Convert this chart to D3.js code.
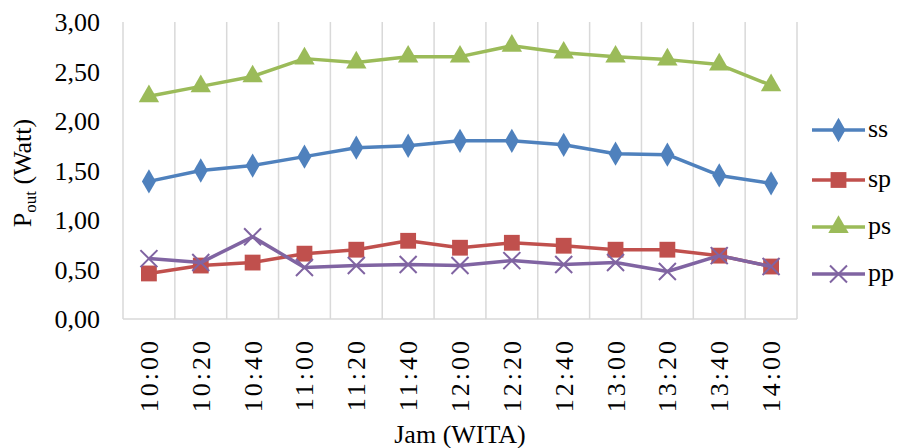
<!DOCTYPE html>
<html>
<head>
<meta charset="utf-8">
<script src="https://cdn.jsdelivr.net/npm/d3@7"></script>
<style>
  body { margin: 0; background: #fff; }
</style>
</head>
<body>
<div id="chart"></div>
<script>
// data
const jam = ["10:00", "10:20", "10:40", "11:00", "11:20", "11:40", "12:00", "12:20", "12:40", "13:00", "13:20", "13:40", "14:00"];
const ss = [1.39, 1.50, 1.55, 1.64, 1.73, 1.75, 1.80, 1.80, 1.76, 1.67, 1.66, 1.45, 1.37];
const sp = [0.46, 0.54, 0.57, 0.66, 0.70, 0.79, 0.72, 0.77, 0.74, 0.70, 0.70, 0.64, 0.53];
const ps = [2.25, 2.35, 2.45, 2.63, 2.59, 2.65, 2.65, 2.76, 2.69, 2.65, 2.62, 2.57, 2.36];
const pp = [0.61, 0.57, 0.83, 0.52, 0.54, 0.55, 0.54, 0.59, 0.55, 0.57, 0.48, 0.64, 0.53];
const yTicks = [0, 0.5, 1, 1.5, 2, 2.5, 3];

const series = [
  { name: "ss", values: ss, color: "#4F81BD", symbol: "diamond" },
  { name: "sp", values: sp, color: "#C0504D", symbol: "square" },
  { name: "ps", values: ps, color: "#9BBB59", symbol: "triangle" },
  { name: "pp", values: pp, color: "#8064A2", symbol: "cross" }
];

const width = 897, height = 448;
const margin = { left: 123, right: 100, top: 22, bottom: 129 };

const svg = d3.select("#chart").append("svg")
  .attr("width", width)
  .attr("height", height)
  .attr("font-family", "Liberation Serif, Times New Roman, serif");

const x = d3.scaleBand()
  .domain(jam)
  .range([margin.left, width - margin.right])
  .padding(0);

const y = d3.scaleLinear()
  .domain([0, 3])
  .range([height - margin.bottom, margin.top]);

const fmt = d => d3.format(".2f")(d).replace(".", ",");

// vertical gridlines on category borders
const borders = jam.map(d => x(d)).concat([x.range()[1]]);
svg.append("g")
  .selectAll("line")
  .data(borders)
  .enter()
  .append("line")
  .attr("x1", d => d)
  .attr("x2", d => d)
  .attr("y1", y(3))
  .attr("y2", y(0))
  .attr("stroke", "#d9d9d9")
  .attr("stroke-width", 1.5);

// bottom axis line
svg.append("line")
  .attr("x1", x.range()[0])
  .attr("x2", x.range()[1])
  .attr("y1", y(0))
  .attr("y2", y(0))
  .attr("stroke", "#d9d9d9")
  .attr("stroke-width", 1.5);

// y tick labels
svg.append("g")
  .selectAll("text")
  .data(yTicks)
  .enter()
  .append("text")
  .attr("x", 100)
  .attr("y", d => y(d) + 9)
  .attr("text-anchor", "end")
  .attr("font-size", "26px")
  .attr("fill", "#000")
  .text(fmt);

// x tick labels (rotated)
svg.append("g")
  .selectAll("text")
  .data(jam)
  .enter()
  .append("text")
  .attr("transform", d => `translate(${x(d) + x.bandwidth() / 2 + 9},${y(0) + 19}) rotate(-90)`)
  .attr("text-anchor", "end")
  .attr("font-size", "26px")
  .attr("letter-spacing", "3px")
  .attr("fill", "#000")
  .text(d => d);

// axis titles
svg.append("text")
  .attr("x", (x.range()[0] + x.range()[1]) / 2)
  .attr("y", 443)
  .attr("text-anchor", "middle")
  .attr("font-size", "26px")
  .text("Jam (WITA)");

const yTitle = svg.append("text")
  .attr("transform", `translate(31,${173}) rotate(-90)`)
  .attr("text-anchor", "middle")
  .attr("font-size", "26px");
yTitle.append("tspan").text("P");
yTitle.append("tspan").attr("font-size", "17px").attr("dy", 5).text("out");
yTitle.append("tspan").attr("dy", -5).text(" (Watt)");

// marker shapes
function marker(sel, s, cx, cy) {
  if (s.symbol === "cross") {
    const r = 8.5;
    sel.append("path")
      .attr("d", `M${cx - r},${cy - r}L${cx + r},${cy + r}M${cx - r},${cy + r}L${cx + r},${cy - r}`)
      .attr("stroke", s.color)
      .attr("stroke-width", 2)
      .attr("fill", "none");
  } else {
    const type = { diamond: d3.symbolDiamond, square: d3.symbolSquare, triangle: d3.symbolTriangle }[s.symbol];
    const size = { diamond: 170, square: 250, triangle: 180 }[s.symbol];
    sel.append("path")
      .attr("transform", `translate(${cx},${cy})`)
      .attr("d", d3.symbol().type(type).size(size)())
      .attr("fill", s.color);
  }
}

const line = d3.line()
  .x((d, i) => x(jam[i]) + x.bandwidth() / 2)
  .y(d => y(d));

series.forEach(s => {
  const g = svg.append("g");
  g.append("path")
    .datum(s.values)
    .attr("fill", "none")
    .attr("stroke", s.color)
    .attr("stroke-width", 3.5)
    .attr("stroke-linejoin", "round")
    .attr("d", line);
  s.values.forEach((v, i) => marker(g, s, x(jam[i]) + x.bandwidth() / 2, y(v)));
});

// legend
const legendY = [130, 180, 227, 274];
series.forEach((s, i) => {
  const g = svg.append("g");
  g.append("line")
    .attr("x1", 812)
    .attr("x2", 865)
    .attr("y1", legendY[i])
    .attr("y2", legendY[i])
    .attr("stroke", s.color)
    .attr("stroke-width", 3.5);
  marker(g, s, 838.5, legendY[i]);
  g.append("text")
    .attr("x", 868)
    .attr("y", legendY[i] + 7)
    .attr("font-size", "26px")
    .text(s.name);
});
</script>
</body>
</html>
